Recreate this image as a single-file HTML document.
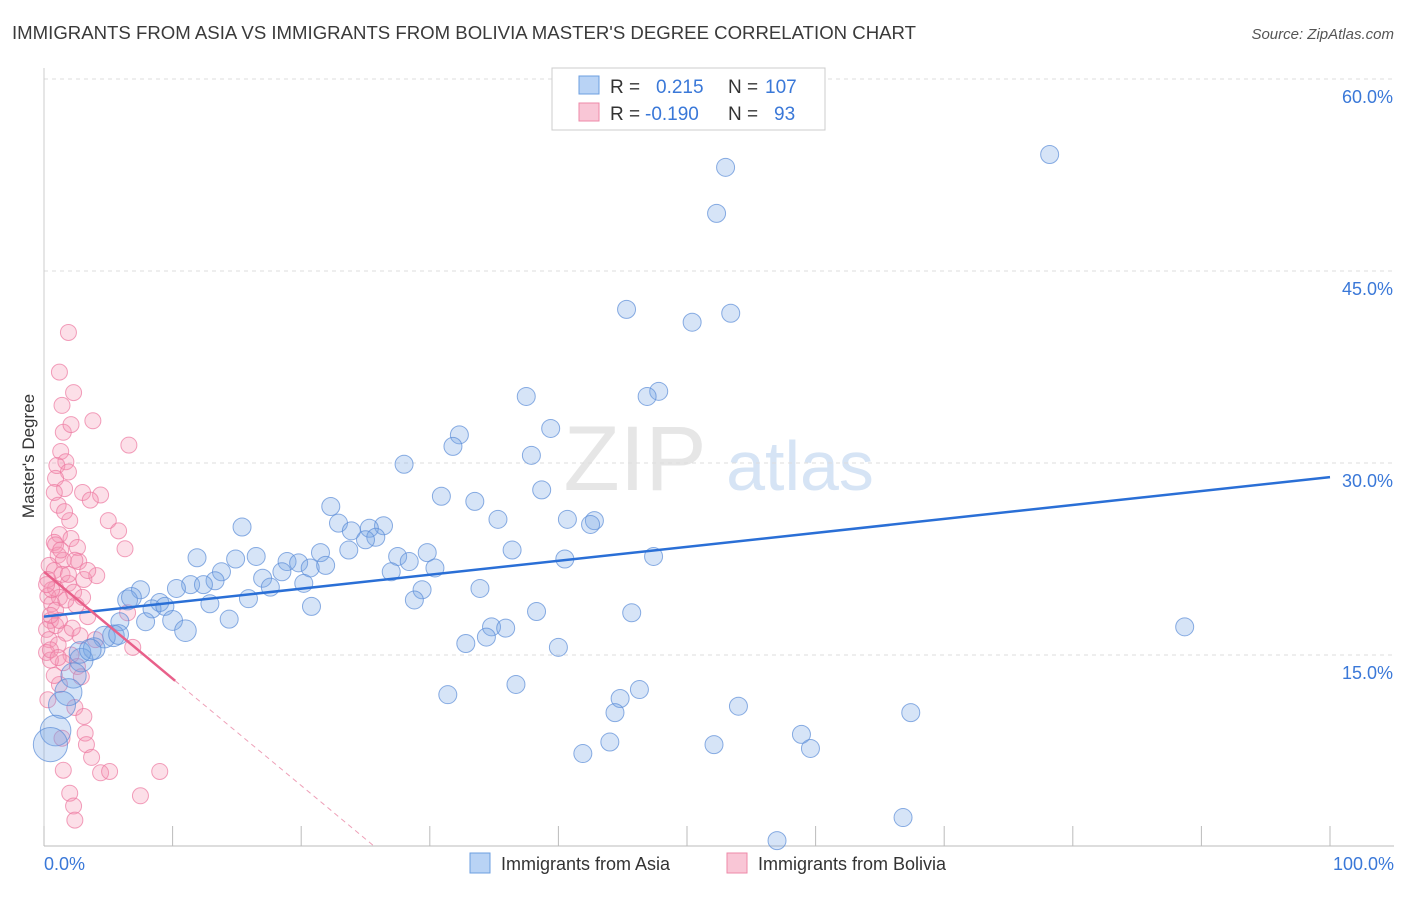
<!DOCTYPE html>
<html><head><meta charset="utf-8"><style>
body{margin:0;background:#fff;font-family:"Liberation Sans",sans-serif}
svg text{font-family:"Liberation Sans",sans-serif}
</style></head><body>
<svg id="chart" width="1406" height="892" viewBox="0 0 1406 892" xmlns="http://www.w3.org/2000/svg">
<text x="12" y="39" font-size="18.5" fill="#3a3a3a" textLength="904" lengthAdjust="spacingAndGlyphs">IMMIGRANTS FROM ASIA VS IMMIGRANTS FROM BOLIVIA MASTER'S DEGREE CORRELATION CHART</text>
<text x="1394" y="39" font-size="15" fill="#555" font-style="italic" text-anchor="end">Source: ZipAtlas.com</text>
<g>
<text x="635" y="490" font-size="92" fill="#e6e6e6" font-family="Liberation Serif" text-anchor="middle">ZIP</text>
<text x="800" y="490" font-size="70" fill="#d6e4f5" text-anchor="middle">atlas</text>
</g>
<g id="grid"></g>
<g id="axes"></g>
<g id="pts"></g>
<g id="lines"></g>
<text transform="translate(34,456) rotate(-90)" font-size="17" fill="#333" text-anchor="middle">Master's Degree</text>
<g>
<rect x="552" y="68" width="273" height="62" fill="#fff" stroke="#ccc"/>
<rect x="579" y="76" width="20" height="18" fill="#b9d3f5" stroke="#6c9fe0"/>
<rect x="579" y="103" width="20" height="18" fill="#f9c6d6" stroke="#ee89a8"/>
<text x="610" y="93" font-size="19" fill="#333">R = </text><text x="656" y="93" font-size="19" fill="#3a78d8">0.215</text>
<text x="728" y="93" font-size="19" fill="#333">N = </text><text x="765" y="93" font-size="19" fill="#3a78d8">107</text>
<text x="610" y="120" font-size="19" fill="#333">R = </text><text x="645" y="120" font-size="19" fill="#3a78d8">-0.190</text>
<text x="728" y="120" font-size="19" fill="#333">N = </text><text x="774" y="120" font-size="19" fill="#3a78d8">93</text>
</g>
<g>
<rect x="470" y="853" width="20" height="20" fill="#b9d3f5" stroke="#6c9fe0"/>
<text x="501" y="870" font-size="18" fill="#333">Immigrants from Asia</text>
<rect x="727" y="853" width="20" height="20" fill="#f9c6d6" stroke="#ee89a8"/>
<text x="758" y="870" font-size="18" fill="#333">Immigrants from Bolivia</text>
</g>
</svg>
<script>
const blueX=[78.2,53.0,52.3,45.3,53.4,50.4,47.8,46.9,37.5,32.3,31.8,39.4,37.9,28.0,38.7,30.9,33.5,22.3,35.3,40.7,42.8,42.5,15.4,22.9,26.4,25.3,23.9,25.8,25.0,23.7,21.5,36.4,29.8,27.5,40.5,47.4,11.9,14.9,16.5,18.9,19.8,20.7,21.9,28.4,30.4,13.8,18.5,27.0,17.0,13.3,17.6,20.2,11.4,10.3,12.4,29.4,33.9,7.5,6.5,6.8,9.0,15.9,12.9,8.4,9.4,20.8,28.8,38.3,45.7,14.4,10.0,7.9,5.9,11.0,34.8,35.9,34.4,5.4,4.7,32.8,40.0,88.7,3.9,2.9,2.3,1.9,36.7,31.4,46.3,44.8,44.4,54.0,67.4,1.4,0.9,0.5,44.0,52.1,58.9,59.6,41.9,66.8,57.0,2.8,3.6,5.8];
const blueY=[54.1,53.1,49.5,42.0,41.7,41.0,35.6,35.2,35.2,32.2,31.3,32.7,30.6,29.9,27.9,27.4,27.0,26.6,25.6,25.6,25.5,25.2,25.0,25.3,25.1,24.9,24.7,24.2,24.0,23.2,23.0,23.2,23.0,22.7,22.5,22.7,22.6,22.5,22.7,22.3,22.2,21.8,22.0,22.3,21.8,21.5,21.5,21.5,21.0,20.8,20.3,20.6,20.5,20.2,20.5,20.1,20.2,20.1,19.3,19.5,19.1,19.4,19.0,18.6,18.8,18.8,19.3,18.4,18.3,17.8,17.7,17.6,17.6,16.9,17.2,17.1,16.4,16.5,16.4,15.9,15.6,17.2,15.5,14.6,13.4,12.1,12.7,11.9,12.3,11.6,10.5,11.0,10.5,11.1,9.1,8.0,8.2,8.0,8.8,7.7,7.3,2.3,0.5,15.2,15.4,16.6];
const blueSize=[1,1,1,1,1,1,1,1,1,1,1,1,1,1,1,1,1,1,1,1,1,1,1,1,1,1,1,1,1,1,1,1,1,1,1,1,1,1,1,1,1,1,1,1,1,1,1,1,1,1,1,1,1,1,1,1,1,1,1.1,1.1,1,1,1,1,1,1,1,1,1,1,1.1,1,1,1.2,1,1,1,1.2,1.2,1,1,1,1.2,1.3,1.4,1.5,1,1,1,1,1,1,1,1.5,1.7,1.9,1,1,1,1,1,1,1,1.2,1.2,1.1];
const pinkX=[1.9,1.2,2.3,1.4,3.8,1.5,2.1,6.6,1.3,1.7,1.0,1.9,0.9,1.6,0.8,3.0,4.4,1.1,5.0,5.8,1.2,2.1,0.8,2.6,6.3,1.1,1.5,0.4,2.7,0.8,1.4,4.1,3.1,1.9,0.9,2.3,0.3,1.2,0.6,2.5,6.5,3.4,0.5,0.9,0.2,1.7,2.8,0.4,1.1,6.9,0.2,2.1,1.5,0.5,2.6,2.9,1.2,2.4,3.1,3.2,1.4,3.3,3.7,1.5,4.4,5.1,9.0,2.0,7.5,2.3,2.4,0.3,0.6,0.9,1.2,0.5,0.9,2.0,1.6,3.6,2.4,1.7,0.8,0.3,1.1,2.2,3.0,4.0,0.5,0.2,1.9,3.4,1.3];
const pinkY=[40.2,37.1,35.5,34.5,33.3,32.4,33.0,31.4,30.9,30.1,29.8,29.3,28.8,28.0,27.7,27.7,27.5,26.7,25.5,24.7,24.4,24.1,23.8,23.4,23.3,22.8,22.4,22.0,22.3,21.6,21.3,21.2,20.9,20.6,20.2,19.9,19.6,19.5,19.0,18.9,18.3,18.0,17.7,17.3,17.0,16.7,16.5,16.2,15.8,15.6,15.2,15.0,14.4,14.6,14.1,13.3,12.7,10.9,10.2,8.9,8.5,8.0,7.0,6.0,5.8,5.9,5.9,4.2,4.0,3.2,2.1,20.9,20.1,18.5,17.7,15.4,23.6,25.5,26.2,27.1,22.4,19.3,13.4,11.5,14.8,17.1,19.5,16.2,18.1,20.5,21.3,21.6,23.2];
const yTicks=[15,30,45,60];
const yTickLabels=["15.0%","30.0%","45.0%","60.0%"];
const xTicks=[0,10,20,30,40,50,60,70,80,90,100];
const blueTrend=[18.0,28.9];
const pinkTrend=[21.5,-0.835];
const pinkSolidEnd=10.2;

const X=v=>44+v*12.86, Y=v=>847-v*12.8;
const NS="http://www.w3.org/2000/svg";
function mk(p,t,a){const e=document.createElementNS(NS,t);for(const k in a)e.setAttribute(k,a[k]);p.appendChild(e);return e;}
const grid=document.getElementById('grid'),axes=document.getElementById('axes'),pts=document.getElementById('pts'),lines=document.getElementById('lines');
yTicks.forEach((t,i)=>{
 const g=mk(grid,'line',{x1:44,x2:1394,y1:Y(t),y2:Y(t),stroke:'#ddd','stroke-dasharray':'4,4'});
 
 
 const tx=mk(axes,'text',{x:1393,y:Y(t)+24,'font-size':18,fill:'#3a78d8','text-anchor':'end'});
 tx.textContent=yTickLabels[i];
 
 
});
const ax=mk(axes,'line',{x1:44,x2:1394,y1:846,y2:846,stroke:'#bbb'});


const ay=mk(axes,'line',{x1:44,x2:44,y1:68,y2:846,stroke:'#ccc'});


xTicks.forEach(t=>{
 const l=mk(axes,'line',{x1:X(t),x2:X(t),y1:826,y2:846,stroke:'#bbb'});
 
 
});
[[0,"0.0%","start",44],[100,"100.0%","end",1394]].forEach(d=>{
 const t=mk(axes,'text',{x:d[3],y:870,'font-size':18,fill:'#3a78d8','text-anchor':d[2]});
 t.textContent=d[1];
 
 
});
pinkX.forEach((x,i)=>{
 const c=mk(pts,'circle',{cx:X(x),cy:Y(pinkY[i]),r:8,fill:'rgba(244,150,180,0.3)',stroke:'rgba(236,120,160,0.7)'});
 
 
});
blueX.forEach((x,i)=>{
 const c=mk(pts,'circle',{cx:X(x),cy:Y(blueY[i]),r:9*blueSize[i],fill:'rgba(120,165,230,0.3)',stroke:'rgba(90,140,215,0.7)'});
 
 
});
const bl=mk(lines,'line',{x1:X(0),y1:Y(blueTrend[0]),x2:X(100),y2:Y(blueTrend[1]),stroke:'#2a6fd6','stroke-width':2.5});


const ps=pinkTrend[1], pe=pinkTrend[0]+ps*pinkSolidEnd, pz=-pinkTrend[0]/ps;
const pl=mk(lines,'line',{x1:X(0),y1:Y(pinkTrend[0]),x2:X(pinkSolidEnd),y2:Y(pe),stroke:'#e8608a','stroke-width':2.5});


const pd=mk(lines,'line',{x1:X(pinkSolidEnd),y1:Y(pe),x2:X(pz),y2:Y(0),stroke:'#eea0b8','stroke-width':1,'stroke-dasharray':'5,4'});


</script>
</body></html>
